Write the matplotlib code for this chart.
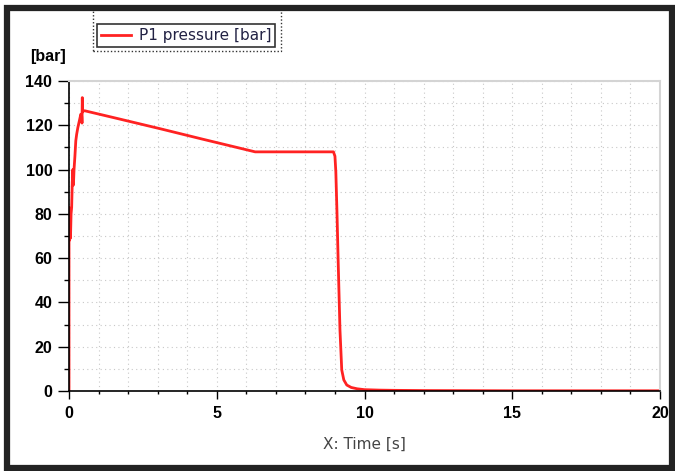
import numpy as np
import matplotlib.pyplot as plt
from matplotlib.patches import Rectangle
from matplotlib.ticker import MultipleLocator

# P1 pressure trace
time_s = [0.0, 0.0, 0.01, 0.03, 0.05, 0.07, 0.09, 0.11, 0.13, 0.15, 0.17, 0.20,
          0.23, 0.26, 0.30, 0.35, 0.40, 0.43, 0.44, 0.45, 0.46, 0.48, 0.55,
          1.5, 3.1, 4.5, 6.3, 7.5, 8.95, 9.0, 9.03, 9.07, 9.11, 9.17, 9.23,
          9.3, 9.4, 9.55, 9.75, 10.0, 10.5, 11.0, 12.0, 15.0, 20.0]
p1_bar = [0.0, 83.0, 68.0, 82.0, 69.0, 80.0, 83.0, 94.0, 100.0, 93.0, 100.0, 106.0,
          113.0, 116.0, 119.0, 122.0, 125.0, 124.0, 121.0, 132.5, 126.0, 126.6, 126.5,
          123.5, 118.4, 113.8, 108.0, 108.0, 108.0, 106.0, 99.0, 80.0, 58.0, 27.5, 9.5,
          5.0, 2.7, 1.6, 1.0, 0.6, 0.4, 0.3, 0.2, 0.1, 0.1]

x_ticks = [0, 5, 10, 15, 20]
y_ticks = [0, 20, 40, 60, 80, 100, 120, 140]

fig = plt.figure(figsize=(6.75, 4.71), dpi=100)
ax = fig.add_axes([69 / 675, 1 - 391 / 471, (660 - 69) / 675, (391 - 81) / 471])

ax.plot(time_s, p1_bar, color='#ff2222', lw=2, label='P1 pressure [bar]')

ax.set_xlim(0, 20)
ax.set_ylim(0, 140)
ax.set_xticks(x_ticks)
ax.set_yticks(y_ticks)
ax.xaxis.set_minor_locator(MultipleLocator(1))
ax.yaxis.set_minor_locator(MultipleLocator(10))
ax.grid(True, which='both', linestyle=(0, (1, 3)), color='#c8c8c8', lw=0.8)
ax.set_axisbelow(True)

for side in ['top', 'right']:
    ax.spines[side].set_color('#d4d4d4')
    ax.spines[side].set_linewidth(1.5)
for side in ['left', 'bottom']:
    ax.spines[side].set_color('black')
    ax.spines[side].set_linewidth(1.2)

tick_font = dict(family='Liberation Sans', weight='bold', size=11.5)
ax.tick_params(axis='x', which='major', direction='out', length=6, width=1, color='black', pad=5)
ax.tick_params(axis='x', which='minor', direction='out', length=2.5, width=1, color='black')
ax.tick_params(axis='y', which='major', direction='out', length=8, width=1, color='black', pad=4)
ax.tick_params(axis='y', which='minor', direction='out', length=3.5, width=1, color='black')
for lab in ax.get_xticklabels() + ax.get_yticklabels():
    lab.set_fontproperties(tick_font)

ax.set_xlabel('X: Time [s]', fontsize=11, color='#444444', labelpad=11)
fig.text(30 / 675, 1 - 56 / 471, '[bar]', va='center', ha='left', **tick_font)

leg = ax.legend(loc='lower left', bbox_to_anchor=(97 / 675, 1 - 47 / 471),
                bbox_transform=fig.transFigure, prop={'size': 11}, frameon=True,
                fancybox=False, borderpad=0.25, handlelength=2.0, handletextpad=0.5,
                borderaxespad=0)
leg.get_frame().set_edgecolor('black')
leg.get_frame().set_linewidth(1.2)
for t in leg.get_texts():
    t.set_color('#222244')

# dotted outer frame around legend
fig.patches.append(Rectangle((93 / 675, 1 - 51 / 471), (281 - 93) / 675, (51 - 9) / 471,
                             transform=fig.transFigure, fill=False, ec='#333333',
                             lw=1, ls=(0, (1, 1.5))))

# dark outer border of the whole picture
fig.patches.append(Rectangle((7 / 675, 1 - 468 / 471), (672 - 7) / 675, (468 - 8) / 471,
                             transform=fig.transFigure, fill=False, ec='#232323', lw=4.5))

fig.savefig('out.png', dpi=100)
